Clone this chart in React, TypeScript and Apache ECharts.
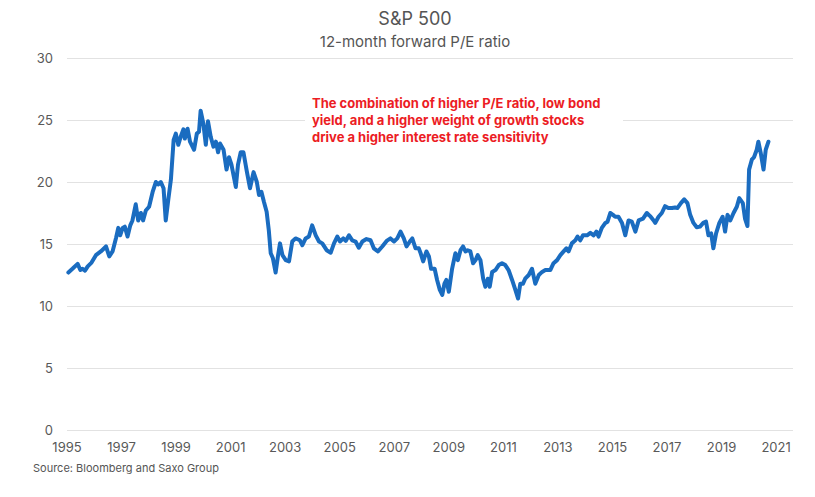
import React, { useEffect, useRef } from "react";
import * as echarts from "echarts";

const titleText = "S&P 500";
const subtitleText = "12-month forward P/E ratio";
const sourceText = "Source: Bloomberg and Saxo Group";
const noteLines = [
  "The combination of higher P/E ratio, low bond",
  "yield, and a higher weight of growth stocks",
  "drive a higher interest rate sensitivity",
];

const yTicks = [0, 5, 10, 15, 20, 25, 30];
const xTickYears = [1995, 1997, 1999, 2001, 2003, 2005, 2007, 2009, 2011, 2013, 2015, 2017, 2019, 2021];

const dates = [
  1995.05, 1995.2, 1995.39, 1995.49, 1995.57, 1995.66, 1995.76, 1995.9,
  1996.06, 1996.24, 1996.43, 1996.55, 1996.67, 1996.8, 1996.88, 1996.95,
  1997.04, 1997.12, 1997.22, 1997.32, 1997.4, 1997.52, 1997.61, 1997.71, 1997.79, 1997.89,
  1998.01, 1998.14, 1998.26, 1998.34, 1998.44, 1998.54, 1998.62, 1998.71, 1998.81, 1998.91, 1998.99,
  1999.08, 1999.17, 1999.27, 1999.32, 1999.42, 1999.51, 1999.66, 1999.76, 1999.84, 1999.9,
  2000.0, 2000.09, 2000.17, 2000.27, 2000.37, 2000.46, 2000.54, 2000.61, 2000.74, 2000.85, 2000.94,
  2001.03, 2001.19, 2001.27, 2001.37, 2001.47, 2001.59, 2001.71, 2001.84, 2001.96,
  2002.04, 2002.13, 2002.22, 2002.32, 2002.4, 2002.47, 2002.55, 2002.65, 2002.74, 2002.81, 2002.9,
  2003.02, 2003.14, 2003.26, 2003.38, 2003.54, 2003.63, 2003.75, 2003.87, 2003.99,
  2004.12, 2004.24, 2004.36, 2004.52, 2004.67, 2004.79, 2004.91,
  2005.01, 2005.13, 2005.22, 2005.34, 2005.46, 2005.58, 2005.7, 2005.83, 2005.98,
  2006.13, 2006.25, 2006.4, 2006.56, 2006.72, 2006.86, 2006.99,
  2007.11, 2007.23, 2007.35, 2007.45, 2007.57, 2007.66, 2007.78, 2007.9, 2007.96,
  2008.06, 2008.18, 2008.27, 2008.35, 2008.48, 2008.57, 2008.67, 2008.76, 2008.84, 2008.91,
  2009.0, 2009.12, 2009.24, 2009.33, 2009.43, 2009.52, 2009.61, 2009.69, 2009.79, 2009.89, 2009.98,
  2010.06, 2010.16, 2010.26, 2010.34, 2010.43, 2010.5, 2010.59, 2010.71, 2010.83, 2010.95,
  2011.07, 2011.19, 2011.32, 2011.44, 2011.54, 2011.62, 2011.72, 2011.8, 2011.93,
  2012.05, 2012.17, 2012.3, 2012.42, 2012.54, 2012.72, 2012.84, 2012.97,
  2013.09, 2013.21, 2013.31, 2013.39, 2013.51, 2013.64, 2013.72, 2013.82, 2013.92,
  2014.07, 2014.19, 2014.31, 2014.41, 2014.49, 2014.61, 2014.74, 2014.82, 2014.92,
  2015.02, 2015.1, 2015.22, 2015.35, 2015.47, 2015.59, 2015.71, 2015.84, 2015.96,
  2016.12, 2016.26, 2016.38, 2016.51, 2016.57, 2016.69, 2016.81, 2016.93,
  2017.05, 2017.18, 2017.3, 2017.38, 2017.51, 2017.63, 2017.75, 2017.85, 2017.97,
  2018.09, 2018.21, 2018.33, 2018.43, 2018.52, 2018.62, 2018.7, 2018.8, 2018.92,
  2019.04, 2019.13, 2019.22, 2019.32, 2019.44, 2019.56, 2019.65, 2019.78, 2019.86, 2019.95,
  2020.01, 2020.11, 2020.19, 2020.29, 2020.35, 2020.44, 2020.54, 2020.62, 2020.72,
];

const peValues = [
  12.7, 13.0, 13.4, 12.9, 13.0, 12.85, 13.2, 13.5,
  14.1, 14.4, 14.8, 14.0, 14.4, 15.5, 16.3, 15.7,
  16.3, 16.4, 15.6, 16.5, 16.9, 18.2, 16.9, 17.5, 16.9, 17.7,
  18.0, 19.2, 20.0, 19.8, 20.0, 19.5, 16.9, 18.5, 20.2, 23.4, 23.9,
  23.0, 23.65, 24.25, 23.5, 24.3, 23.25, 22.6, 23.9, 24.05, 25.75,
  24.7, 23.0, 24.9, 23.65, 22.85, 23.25, 22.4, 23.1, 22.6, 21.0, 22.0,
  21.4, 19.6, 21.4, 22.4, 22.4, 20.9, 19.5, 20.8, 20.0,
  18.95, 19.2, 18.4, 17.6, 16.1, 14.25, 13.85, 12.7, 14.1, 15.05, 14.1,
  13.7, 13.6, 15.2, 15.45, 15.3, 14.9, 15.45, 15.6, 16.5,
  15.7, 15.2, 15.05, 14.5, 14.3, 15.05, 15.6,
  15.2, 15.45, 15.25, 15.7, 15.3, 15.2, 14.7, 15.2, 15.4,
  15.3, 14.65, 14.4, 14.8, 15.25, 15.45, 15.2,
  15.45, 16.0, 15.45, 14.8, 15.2, 15.45, 14.65, 14.65, 14.3,
  13.6, 14.4, 14.0, 13.0, 13.0, 12.1, 11.3, 10.9, 11.8, 12.1,
  11.15, 13.0, 14.25, 13.7, 14.5, 14.8, 14.4, 14.5, 14.4, 13.45, 13.7,
  14.1, 13.7, 12.2, 11.55, 12.2, 11.55, 12.75, 12.9, 13.3, 13.45,
  13.3, 12.9, 12.1, 11.3, 10.6, 11.8, 11.8, 12.2, 12.5,
  13.0, 11.8, 12.5, 12.75, 12.9, 12.9, 13.45, 13.7,
  14.1, 14.4, 14.65, 14.4, 15.05, 15.3, 15.6, 15.3, 15.7,
  15.7, 15.9, 15.7, 16.0, 15.6, 16.3, 16.7, 16.8, 17.5,
  17.35, 17.2, 17.2, 16.7, 15.7, 16.9, 16.8, 16.0, 16.9,
  17.05, 17.5, 17.25, 16.9, 16.7, 17.2, 17.5, 18.05,
  17.9, 17.9, 17.95, 17.9, 18.3, 18.6, 18.3, 17.35, 16.7,
  16.35, 16.4, 16.7, 16.8, 15.7, 15.85, 14.65, 15.85, 16.7,
  17.2, 16.0, 17.35, 16.9, 17.5, 18.0, 18.7, 18.3, 17.05, 16.45,
  21.0, 21.8, 22.0, 22.6, 23.25, 22.3, 21.0, 22.6, 23.25,
];

export default function App() {
  const ref = useRef<HTMLDivElement>(null);

  useEffect(() => {
    if (!ref.current) return;
    const chart = echarts.init(ref.current, null, { renderer: "svg" });
    const font = "Inter, 'Noto Sans', sans-serif";
    const gray = "#595959";
    const seriesData = dates.map((d, i) => [d, peValues[i]]);

    chart.setOption({
      animation: false,
      backgroundColor: "#ffffff",
      grid: { left: 67, right: 22, top: 58, bottom: 67, containLabel: false },
      xAxis: {
        type: "value",
        min: 1995,
        max: 2021.62,
        interval: 2,
        axisLine: { show: false },
        axisTick: { show: false },
        splitLine: { show: false },
        axisLabel: {
          color: gray,
          fontSize: 13,
          fontFamily: font,
          margin: 10,
          showMaxLabel: false,
          formatter: (v: number) =>
            xTickYears.indexOf(Math.round(v)) >= 0 && Math.abs(v - Math.round(v)) < 1e-6 ? String(Math.round(v)) : "",
        },
      },
      yAxis: {
        type: "value",
        min: yTicks[0],
        max: yTicks[yTicks.length - 1],
        interval: 5,
        axisLine: { show: false },
        axisTick: { show: false },
        splitLine: { show: true, lineStyle: { color: "#e2e2e2", width: 1 } },
        axisLabel: { color: gray, fontSize: 13, fontFamily: font, margin: 14 },
      },
      series: [
        {
          type: "line",
          data: seriesData,
          showSymbol: false,
          symbol: "none",
          lineStyle: { color: "#1a6cc0", width: 4, join: "round", cap: "round" },
          z: 3,
        },
      ],
      graphic: [
        {
          type: "text",
          x: 415,
          y: 18,
          z: 100,
          style: {
            text: titleText,
            font: `18px ${font}`,
            fill: "#555555",
            textAlign: "center",
            textVerticalAlign: "middle",
          },
        },
        {
          type: "text",
          x: 415,
          y: 41,
          z: 100,
          style: {
            text: subtitleText,
            font: `15px ${font}`,
            fill: "#555555",
            textAlign: "center",
            textVerticalAlign: "middle",
          },
        },
        {
          type: "rect",
          z: 90,
          shape: { x: 305, y: 91, width: 318, height: 56 },
          style: { fill: "#ffffff" },
        },
        {
          type: "text",
          x: 312,
          y: 94,
          z: 100,
          style: {
            text: noteLines.join("\n"),
            font: `bold 13px ${font}`,
            lineHeight: 17,
            fill: "#ec1c24",
            textAlign: "left",
            textVerticalAlign: "top",
          },
        },
        {
          type: "text",
          x: 33,
          y: 468,
          z: 100,
          style: {
            text: sourceText,
            font: `11px ${font}`,
            fill: "#555555",
            textAlign: "left",
            textVerticalAlign: "middle",
          },
        },
      ],
    });

    return () => chart.dispose();
  }, []);

  return <div ref={ref} style={{ width: 815, height: 497, position: "absolute", left: 0, top: 0 }} />;
}
